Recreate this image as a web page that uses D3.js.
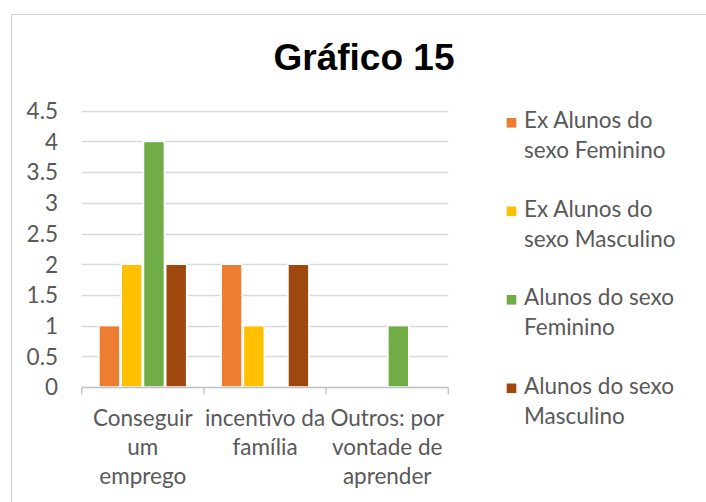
<!DOCTYPE html>
<html>
<head>
<meta charset="utf-8">
<script src="https://cdn.jsdelivr.net/npm/d3@7"></script>
<style>
  html, body { margin: 0; padding: 0; background: #fff; }
  svg { display: block; }
</style>
</head>
<body>
<svg id="chart" width="706" height="502"></svg>
<script>
// ---- data ----
const categories = [
  ["Conseguir", "um", "emprego"],
  ["incentivo da", "família"],
  ["Outros: por", "vontade de", "aprender"]
];
const categoryKeys = ["Conseguir um emprego", "incentivo da família", "Outros: por vontade de aprender"];
const seriesNames = [
  ["Ex Alunos do", "sexo Feminino"],
  ["Ex Alunos do", "sexo Masculino"],
  ["Alunos do sexo", "Feminino"],
  ["Alunos do sexo", "Masculino"]
];
const seriesKeys = ["exFem", "exMasc", "alFem", "alMasc"];
const exFem  = [1, 2, 0];
const exMasc = [2, 1, 0];
const alFem  = [4, 0, 1];
const alMasc = [2, 2, 0];
const seriesValues = [exFem, exMasc, alFem, alMasc];
const colors = ["#ED7D31", "#FFC000", "#70AD47", "#9E480E"];
const yTicks = [0, 0.5, 1, 1.5, 2, 2.5, 3, 3.5, 4, 4.5];
const titleText = "Gráfico 15";

// ---- layout ----
const svg = d3.select("#chart");
const font = "Lato, 'Open Sans', sans-serif";
const fs = 22.5;
const textColor = "#595959";
const plot = { left: 81.7, right: 448.3, top: 110.7, bottom: 387 };

// frame
svg.append("rect")
  .attr("x", 11.5).attr("y", 14.5)
  .attr("width", 800).attr("height", 600)
  .attr("fill", "#fff").attr("stroke", "#D0D0D0").attr("stroke-width", 1);

// title
svg.append("text")
  .attr("x", 364).attr("y", 70)
  .attr("text-anchor", "middle")
  .attr("font-family", "'Liberation Sans', Arial, sans-serif")
  .attr("font-weight", "bold")
  .attr("font-size", 37)
  .attr("fill", "#000")
  .text(titleText);

// scales
const y = d3.scaleLinear().domain([0, 4.5]).range([plot.bottom, plot.top]);
const x0 = d3.scaleBand().domain(categoryKeys).range([plot.left, plot.right]).padding(0);
const bw = x0.bandwidth();
const x1 = d3.scaleBand().domain(seriesKeys).range([17.2, bw - 17.2]).paddingInner(0.058).paddingOuter(0);

// gridlines
svg.append("g").selectAll("line").data(yTicks.filter(d => d > 0)).join("line")
  .attr("x1", plot.left).attr("x2", plot.right)
  .attr("y1", d => Math.round(y(d)) + 0.5).attr("y2", d => Math.round(y(d)) + 0.5)
  .attr("stroke", "#D9D9D9").attr("stroke-width", 1.3);

// y-axis labels
const yAxis = d3.axisLeft(y).tickValues(yTicks).tickSize(0).tickPadding(0)
  .tickFormat(d3.format("~g"));
const gy = svg.append("g").attr("transform", `translate(58,0)`).call(yAxis);
gy.select(".domain").remove();
gy.selectAll("text")
  .attr("font-family", font).attr("font-size", fs)
  .attr("fill", textColor).attr("dy", "0.35em");

// bars
const groups = svg.append("g").selectAll("g").data(categoryKeys).join("g")
  .attr("transform", d => `translate(${x0(d)},0)`);
groups.selectAll("rect")
  .data((d, i) => seriesKeys.map((k, s) => ({ key: k, s, value: seriesValues[s][i] })))
  .join("rect")
  .filter(d => d.value > 0)
  .attr("x", d => x1(d.key))
  .attr("width", x1.bandwidth())
  .attr("y", d => y(d.value))
  .attr("height", d => y(0) - y(d.value))
  .attr("fill", d => colors[d.s])
  .attr("stroke", "#fff").attr("stroke-width", 1.6);

// x axis
const xAxis = d3.axisBottom(x0).tickSize(0).tickFormat("");
const gx = svg.append("g").attr("transform", `translate(0,${Math.round(plot.bottom) + 0.5})`).call(xAxis);
gx.select(".domain").attr("stroke", "#BFBFBF").attr("stroke-width", 1.3).attr("d", `M${plot.left},0H${plot.right}`);
gx.selectAll(".tick").remove();
const boundaries = categoryKeys.map(k => x0(k)).concat([plot.right]);
gx.selectAll("line.sep").data(boundaries).join("line").attr("class", "sep")
  .attr("x1", d => d).attr("x2", d => d).attr("y1", 0).attr("y2", 7)
  .attr("stroke", "#BFBFBF").attr("stroke-width", 1.3);

// category labels
const catLabels = svg.append("g");
categoryKeys.forEach((k, i) => {
  const t = catLabels.append("text")
    .attr("x", x0(k) + bw / 2).attr("y", 426)
    .attr("text-anchor", "middle")
    .attr("font-family", font).attr("font-size", fs).attr("fill", textColor);
  categories[i].forEach((line, j) => {
    t.append("tspan").attr("x", x0(k) + bw / 2).attr("y", 426 + j * 29.2).text(line);
  });
});

// legend
const legend = svg.append("g");
const legendY = [128, 216.5, 305, 393.5];
seriesNames.forEach((lines, i) => {
  legend.append("rect")
    .attr("x", 506.7).attr("y", legendY[i] - 10)
    .attr("width", 9.6).attr("height", 9.6)
    .attr("fill", colors[i]);
  const t = legend.append("text")
    .attr("font-family", font).attr("font-size", fs).attr("fill", textColor);
  lines.forEach((line, j) => {
    t.append("tspan").attr("x", 524).attr("y", legendY[i] + j * 30).text(line);
  });
});
</script>
</body>
</html>
